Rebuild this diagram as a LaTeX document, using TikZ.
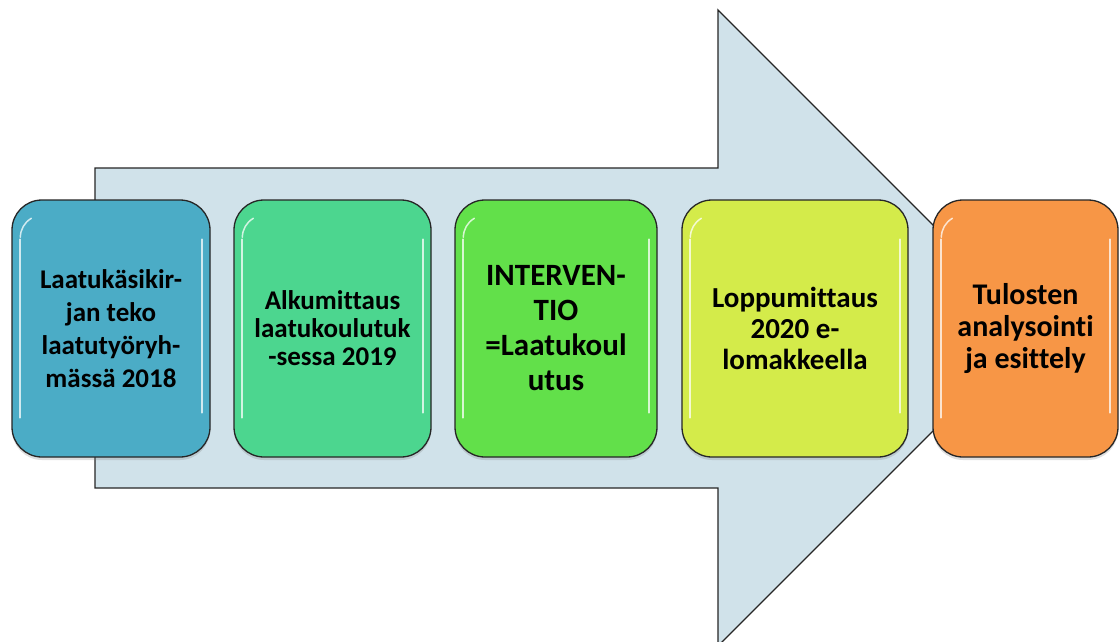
\documentclass[tikz,border=0pt]{standalone}
\usepackage{fontspec}
\setmainfont[Ligatures=NoCommon]{Carlito}
\usetikzlibrary{shadows}
\definecolor{arrowfill}{RGB}{208,226,234}
\definecolor{cA}{RGB}{75,172,198}
\definecolor{cB}{RGB}{76,214,143}
\definecolor{cC}{RGB}{98,224,74}
\definecolor{cD}{RGB}{212,235,74}
\definecolor{cE}{RGB}{247,150,70}
\tikzset{
  bigarrow/.style={fill=arrowfill, draw=black!85, line width=1.3pt, line join=miter},
  stepbox/.style={draw=black!85, line width=1.3pt, rounded corners=30pt,
    minimum height=257pt, inner sep=0pt, align=center,
    font=\bfseries\fontsize{27}{28}\selectfont,
    drop shadow={shadow xshift=0pt, shadow yshift=-3pt, opacity=0.25}},
  hl/.style={white, line width=2.2pt, line cap=round, opacity=0.75}
}
\begin{document}
\begin{tikzpicture}[x=1pt,y=-1pt]
\useasboundingbox (0,0) rectangle (1120,642);
\fill[white] (0,0) rectangle (1120,642);
\coordinate (s1) at (95,168);
\coordinate (n1) at (718,168);
\coordinate (t1) at (718,10);
\coordinate (tip) at (1036,328);
\coordinate (t2) at (718,646);
\coordinate (n2) at (718,488);
\coordinate (s2) at (95,488);
\begin{scope}
\clip (0,0) rectangle (1120,642);
\draw[bigarrow] (s1) -- (n1) -- (t1) -- (tip) -- (t2) -- (n2) -- (s2) -- cycle;
\end{scope}
\node[stepbox, fill=cA, minimum width=198pt, font=\bfseries\fontsize{27}{33}\selectfont] (b1) at (111,328.5) {Laatukäsikir-\\jan teko\\laatutyöryh-\\mässä 2018};
\node[stepbox, fill=cB, minimum width=197pt] (b2) at (332.5,328.5) {Alkumittaus\\laatukoulutuk\\-sessa 2019};
\node[stepbox, fill=cC, minimum width=202pt, font=\bfseries\fontsize{31}{35}\selectfont] (b3) at (556,328.5) {INTERVEN-\\TIO\\=Laatukoul\\utus};
\node[stepbox, fill=cD, minimum width=226pt, font=\bfseries\fontsize{29}{31}\selectfont] (b4) at (795,328.5) {Loppumittaus\\2020 e-\\lomakkeella};
\node[stepbox, fill=cE, minimum width=185pt, font=\bfseries\fontsize{30}{32}\selectfont] (b5) at (1025.5,328.5) {Tulosten\\analysointi\\ja esittely};
\foreach \b in {b1,b2,b3,b4,b5}{
  \draw[hl] ([xshift=9pt,yshift=-40pt]\b.north west) -- ([xshift=9pt,yshift=40pt]\b.south west);
  \draw[hl] ([xshift=-9pt,yshift=-40pt]\b.north east) -- ([xshift=-9pt,yshift=45pt]\b.south east);
  \draw[hl, line width=1.5pt] ([xshift=9pt,yshift=-38pt]\b.north west) arc[start angle=180, end angle=120, radius=22pt];
}
\end{tikzpicture}
\end{document}
